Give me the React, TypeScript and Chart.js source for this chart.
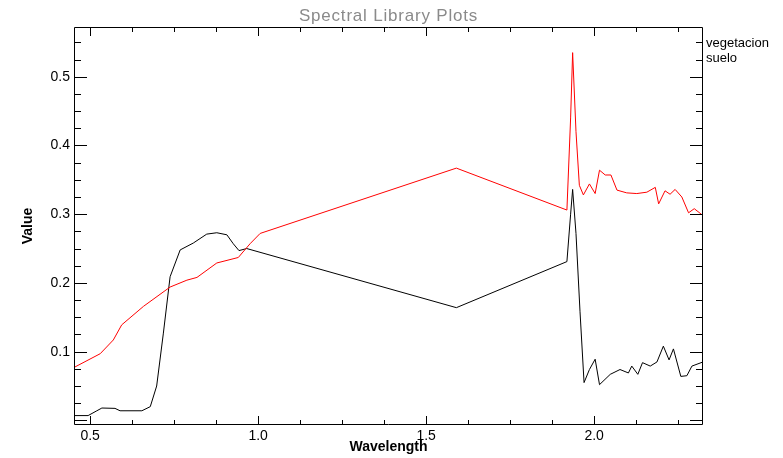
import { useEffect, useRef } from "react";
import { Chart, registerables } from "chart.js";

Chart.register(...registerables);

const chartTitle = "Spectral Library Plots";
const xTitle = "Wavelength";
const yTitle = "Value";
const legendLabels = ["vegetacion", "suelo"];

const vegWavelength = [0.452, 0.494, 0.52, 0.535, 0.574, 0.589, 0.654, 0.679, 0.698, 0.718, 0.738, 0.768, 0.807, 0.847, 0.877, 0.907, 0.926, 0.943, 0.966, 1.59, 1.919, 1.93, 1.936, 1.946, 1.958, 1.97, 1.986, 2.003, 2.016, 2.048, 2.077, 2.102, 2.112, 2.13, 2.144, 2.167, 2.187, 2.206, 2.223, 2.236, 2.258, 2.276, 2.291, 2.324];
const vegValue = [0.007, 0.007, 0.014, 0.018, 0.0175, 0.014, 0.014, 0.02, 0.05, 0.127, 0.209, 0.248, 0.258, 0.271, 0.273, 0.27, 0.257, 0.247, 0.25, 0.164, 0.231, 0.3, 0.336, 0.272, 0.158, 0.055, 0.074, 0.089, 0.052, 0.067, 0.074, 0.069, 0.079, 0.067, 0.084, 0.079, 0.085, 0.108, 0.088, 0.104, 0.064, 0.065, 0.079, 0.085];

const soilWavelength = [0.452, 0.53, 0.569, 0.594, 0.659, 0.738, 0.788, 0.818, 0.877, 0.941, 0.976, 1.006, 1.59, 1.919, 1.93, 1.936, 1.946, 1.956, 1.968, 1.986, 2.003, 2.016, 2.033, 2.05, 2.068, 2.097, 2.127, 2.157, 2.182, 2.192, 2.211, 2.226, 2.241, 2.261, 2.281, 2.298, 2.324];
const soilValue = [0.077, 0.097, 0.117, 0.139, 0.166, 0.194, 0.204, 0.208, 0.229, 0.237, 0.257, 0.272, 0.367, 0.306, 0.44, 0.535, 0.42, 0.342, 0.328, 0.344, 0.33, 0.364, 0.357, 0.357, 0.335, 0.331, 0.33, 0.332, 0.339, 0.315, 0.334, 0.329, 0.336, 0.325, 0.302, 0.308, 0.298];

const xMajorTicks = [0.5, 1.0, 1.5, 2.0];
const xMinorTicks = [0.625, 0.75, 0.875, 1.125, 1.25, 1.375, 1.625, 1.75, 1.875, 2.125, 2.25];
const yMajorTicks = [0.1, 0.2, 0.3, 0.4, 0.5];
const yMinorTicks = [0.025, 0.05, 0.075, 0.125, 0.15, 0.175, 0.225, 0.25, 0.275, 0.325, 0.35, 0.375, 0.425, 0.45, 0.475, 0.525, 0.55];

const X_MIN = 0.452;
const X_MAX = 2.324;
const Y_MIN = -0.0067;
const Y_MAX = 0.5723;

const framePlugin = {
  id: "idlFrame",
  afterDatasetsDraw(chart: any) {
    const { ctx, chartArea } = chart;
    const { left, right, top, bottom } = chartArea;
    const xs = chart.scales.x;
    const ys = chart.scales.y;
    ctx.save();
    ctx.strokeStyle = "#000";
    ctx.lineWidth = 1;
    ctx.beginPath();
    ctx.rect(left + 0.5, top + 0.5, right - left - 1, bottom - top - 1);
    ctx.stroke();
    ctx.beginPath();
    const xTick = (v: number, len: number) => {
      const px = Math.round(xs.getPixelForValue(v)) + 0.5;
      ctx.moveTo(px, bottom);
      ctx.lineTo(px, bottom - len);
      ctx.moveTo(px, top);
      ctx.lineTo(px, top + len);
    };
    const yTick = (v: number, len: number) => {
      const py = Math.round(ys.getPixelForValue(v)) + 0.5;
      ctx.moveTo(left, py);
      ctx.lineTo(left + len, py);
      ctx.moveTo(right, py);
      ctx.lineTo(right - len, py);
    };
    xMajorTicks.forEach((v) => xTick(v, 9));
    xMinorTicks.forEach((v) => xTick(v, 5));
    yTick(0, 13);
    yMajorTicks.forEach((v) => yTick(v, 13));
    yMinorTicks.forEach((v) => yTick(v, 7));
    ctx.stroke();

    // titles
    ctx.fillStyle = "#8a8a8a";
    ctx.font = "17px 'Liberation Sans', sans-serif";
    try {
      (ctx as any).letterSpacing = "0.8px";
    } catch (e) {}
    ctx.textAlign = "center";
    ctx.textBaseline = "middle";
    ctx.fillText(chartTitle, (left + right) / 2, 16);
    try {
      (ctx as any).letterSpacing = "0px";
    } catch (e) {}

    ctx.fillStyle = "#000";
    ctx.font = "bold 14px 'Liberation Sans', sans-serif";
    ctx.fillText(xTitle, (left + right) / 2, 447);
    ctx.save();
    ctx.translate(28, (top + bottom) / 2);
    ctx.rotate(-Math.PI / 2);
    ctx.fillText(yTitle, 0, 0);
    ctx.restore();

    ctx.font = "13px 'Liberation Sans', sans-serif";
    ctx.textAlign = "left";
    legendLabels.forEach((t, i) => {
      ctx.fillText(t, right + 3, 43 + i * 15);
    });
    ctx.restore();
  },
};

export default function App() {
  const ref = useRef<HTMLCanvasElement | null>(null);
  useEffect(() => {
    document.body.style.margin = "0";
    if (!ref.current) return;
    const chart = new Chart(ref.current, {
      type: "line",
      data: {
        datasets: [
          {
            label: legendLabels[1],
            data: soilWavelength.map((x, i) => ({ x, y: soilValue[i] })),
            borderColor: "#ff0000",
            borderWidth: 1,
            pointRadius: 0,
            tension: 0,
            fill: false,
          },
          {
            label: legendLabels[0],
            data: vegWavelength.map((x, i) => ({ x, y: vegValue[i] })),
            borderColor: "#000000",
            borderWidth: 1,
            pointRadius: 0,
            tension: 0,
            fill: false,
          },
        ],
      },
      options: {
        responsive: false,
        animation: false,
        devicePixelRatio: 1,
        layout: { padding: { top: 27, right: 80, left: 0, bottom: 0 } },
        plugins: {
          legend: { display: false },
          title: { display: false },
          tooltip: { enabled: false },
        },
        scales: {
          x: {
            type: "linear",
            min: X_MIN,
            max: X_MAX,
            grid: { display: false, drawTicks: false },
            border: { display: false },
            afterBuildTicks: (s: any) => {
              s.ticks = xMajorTicks.map((value) => ({ value }));
            },
            afterFit: (s: any) => {
              s.height = 33;
            },
            ticks: {
              autoSkip: false,
              maxRotation: 0,
              padding: 3,
              color: "#000",
              font: { family: "'Liberation Sans', sans-serif", size: 14 },
              callback: (v: any) => Number(v).toFixed(1),
            },
          },
          y: {
            type: "linear",
            min: Y_MIN,
            max: Y_MAX,
            grid: { display: false, drawTicks: false },
            border: { display: false },
            afterBuildTicks: (s: any) => {
              s.ticks = yMajorTicks.map((value) => ({ value }));
            },
            afterFit: (s: any) => {
              s.width = 74;
            },
            ticks: {
              autoSkip: false,
              padding: 4,
              color: "#000",
              font: { family: "'Liberation Sans', sans-serif", size: 14 },
              callback: (v: any) => Number(v).toFixed(1),
            },
          },
        },
      },
      plugins: [framePlugin],
    });
    return () => chart.destroy();
  }, []);
  return <canvas ref={ref} width={783} height={458} style={{ display: "block" }} />;
}
